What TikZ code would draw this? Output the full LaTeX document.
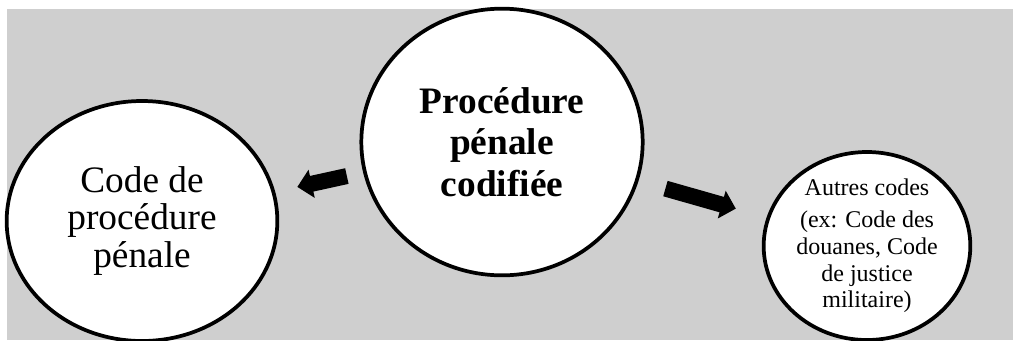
\documentclass[tikz,border=0pt]{standalone}
\usepackage{fontspec}
\setmainfont{Liberation Serif}
\usepackage{tikz}
\usetikzlibrary{arrows.meta,shapes.geometric}
\usepackage{xcolor}
\definecolor{fondgris}{RGB}{207,207,207}
\tikzset{
  bulle/.style={
    ellipse, draw=black, fill=white, line width=2.8pt,
    inner sep=-20pt, align=center
  },
  fleche/.style={draw=black, line width=12pt, -{Triangle[length=11pt,width=21pt]}}
}

\begin{document}
\begin{tikzpicture}[x=0.75pt, y=-0.75pt]
        \clip (0,0) rectangle (1013,340);
        \fill[fondgris] (7,9) rectangle (1013,340);
        \node[bulle, minimum width=203pt, minimum height=180pt,
              font=\fontsize{28}{28}\selectfont]            (cpp) at (142,221){Code de\\procédure\\pénale};
        \node[bulle, minimum width=211pt, minimum height=200pt,
              font=\fontsize{28}{31}\selectfont\bfseries]   (ppc) at (502,142){Procédure\\pénale\\codifiée};
        \node[bulle, minimum width=155pt, minimum height=141pt,
              font=\fontsize{18}{20}\selectfont]            (autres) at (867,246){Autres codes\\[4pt](ex: Code des\\douanes, Code\\de justice\\militaire)};
        \draw[fleche, shorten <=12.5pt, shorten >=17pt] (ppc) -- (cpp);
        \draw[fleche, shorten <=21pt, shorten >=24pt]   (ppc) -- (autres);
      \end{tikzpicture}
\end{document}
